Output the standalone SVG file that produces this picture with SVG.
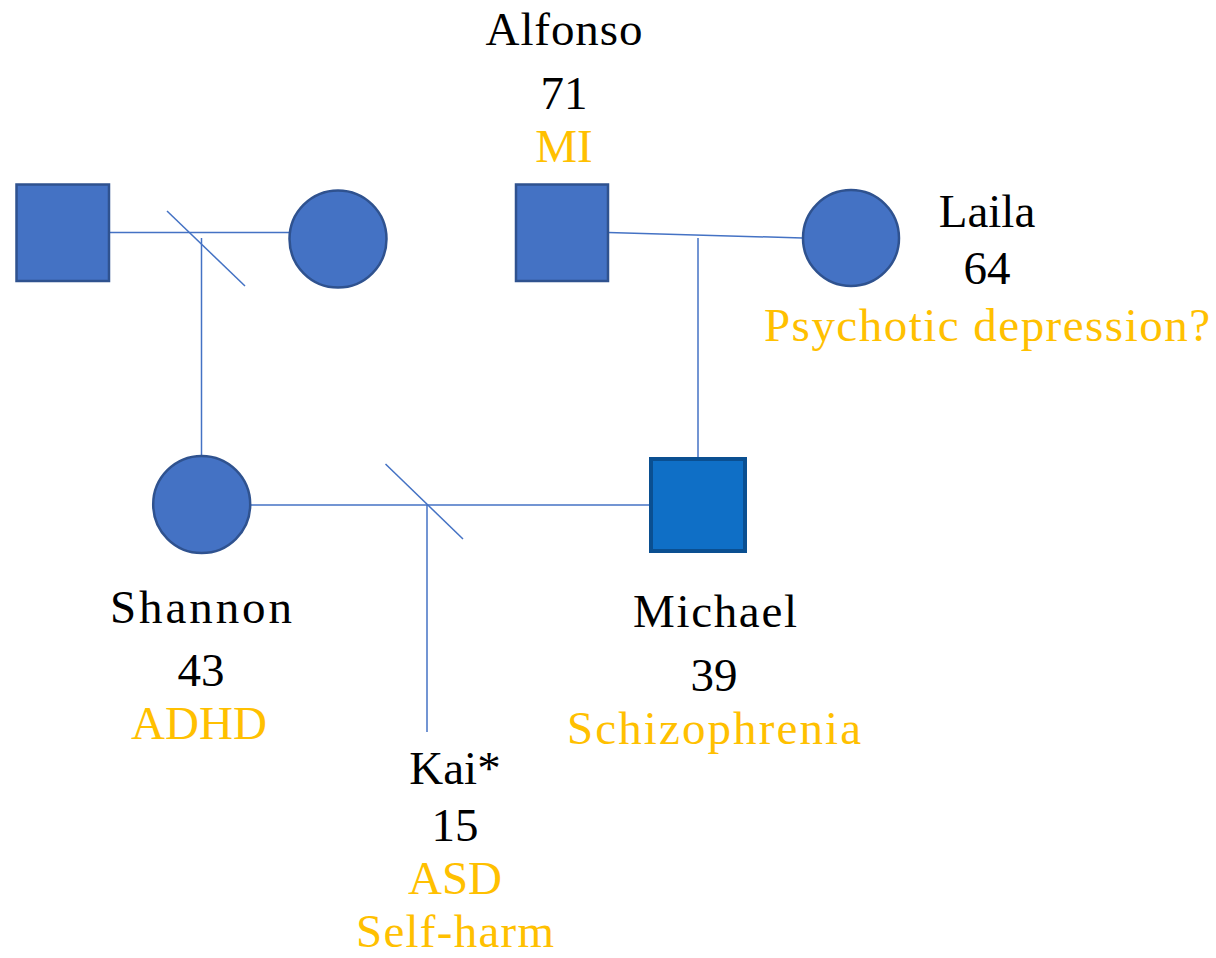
<svg xmlns="http://www.w3.org/2000/svg" width="1216" height="958" viewBox="0 0 1216 958">
<style>
.shape{fill:#4472C4;stroke:#2F528F;stroke-width:2.5}
.idx{fill:#0F6FC6;stroke:#0A4F91;stroke-width:4}
.ln{stroke:#4472C4;stroke-width:1.5;fill:none}
text{font-family:"Liberation Serif","DejaVu Serif",serif;font-size:47px;text-anchor:middle}
.nm{fill:#000}
.dx{fill:#FFC000}
</style>
<rect width="1216" height="958" fill="#fff"/>
<g id="connectors">
<line class="ln" x1="109" y1="232.5" x2="289" y2="232.5"/>
<line class="ln" x1="167" y1="211" x2="245" y2="286"/>
<line class="ln" x1="201.5" y1="238" x2="201.5" y2="456"/>
<line class="ln" x1="608" y1="232.5" x2="802.5" y2="238"/>
<line class="ln" x1="698" y1="238" x2="698" y2="459"/>
<line class="ln" x1="250" y1="505" x2="651" y2="505"/>
<line class="ln" x1="385.5" y1="464" x2="463" y2="539"/>
<line class="ln" x1="427" y1="505" x2="427" y2="732"/>
</g>
<g id="grandfather-left"><rect class="shape" x="16.5" y="184.5" width="92.5" height="96.5"/></g>
<g id="grandmother-left"><circle class="shape" cx="338" cy="239" r="48.5"/></g>
<g id="alfonso">
<rect class="shape" x="516" y="184.5" width="92" height="96.5"/>
<text class="nm" x="564" y="45" textLength="157" lengthAdjust="spacing">Alfonso</text>
<text class="nm" x="564" y="109">71</text>
<text class="dx" x="564" y="162">MI</text>
</g>
<g id="laila">
<circle class="shape" cx="851" cy="238" r="48"/>
<text class="nm" x="987" y="227">Laila</text>
<text class="nm" x="987" y="284">64</text>
<text class="dx" x="987" y="341" textLength="446" lengthAdjust="spacing">Psychotic depression?</text>
</g>
<g id="shannon">
<circle class="shape" cx="201.7" cy="504.5" r="48.5"/>
<text class="nm" x="201" y="623" textLength="182" lengthAdjust="spacing">Shannon</text>
<text class="nm" x="201" y="686">43</text>
<text class="dx" x="199" y="739">ADHD</text>
</g>
<g id="michael">
<rect class="idx" x="651" y="459" width="94" height="92"/>
<text class="nm" x="715" y="627" textLength="164" lengthAdjust="spacing">Michael</text>
<text class="nm" x="714" y="691">39</text>
<text class="dx" x="714" y="744" textLength="294" lengthAdjust="spacing">Schizophrenia</text>
</g>
<g id="kai">
<text class="nm" x="455" y="784">Kai*</text>
<text class="nm" x="455" y="841">15</text>
<text class="dx" x="455" y="894">ASD</text>
<text class="dx" x="455" y="947" textLength="198" lengthAdjust="spacing">Self-harm</text>
</g>
</svg>
